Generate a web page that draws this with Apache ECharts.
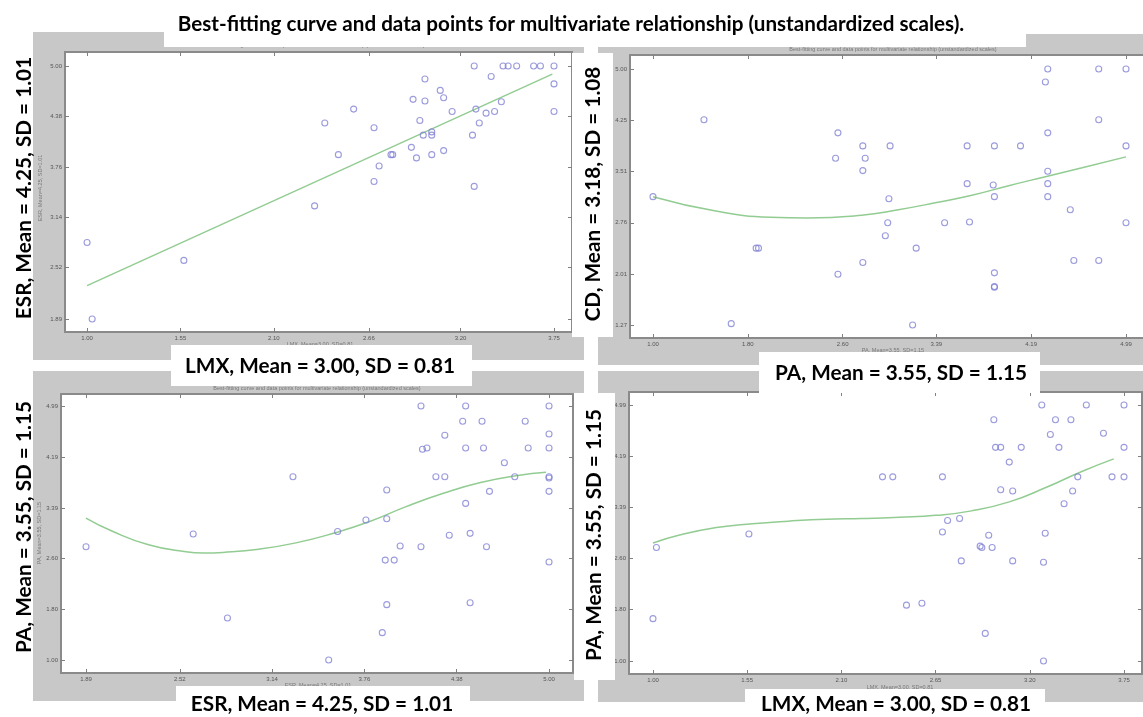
<!DOCTYPE html>
<html><head><meta charset="utf-8">
<script src="https://cdn.jsdelivr.net/npm/echarts@6/dist/echarts.min.js"></script>
<style>html,body{margin:0;padding:0;background:#fff}#c{width:1143px;height:717px}</style>
</head><body><div id="c"></div>
<script>
// ---------------- DATA ----------------
const mainTitle = 'Best-fitting curve and data points for multivariate relationship (unstandardized scales).';
const innerTitle = 'Best-fitting curve and data points for multivariate relationship (unstandardized scales)';

// Panel 1: LMX (x) vs ESR (y)
const p1XName = 'LMX, Mean = 3.00, SD = 0.81';
const p1YName = 'ESR, Mean = 4.25, SD = 1.01';
const p1XTicks = [1.00, 1.55, 2.10, 2.66, 3.20, 3.75];
const p1YTicks = [1.89, 2.52, 3.14, 3.76, 4.38, 5.00];
const p1Points = [
  [1.00,2.83],[1.03,1.89],[1.57,2.61],[2.34,3.28],[2.40,4.30],[2.48,3.91],[2.57,4.47],
  [2.69,4.24],[2.69,3.58],[2.72,3.77],[2.79,3.91],[2.80,3.91],[2.91,4.00],[2.92,4.59],
  [2.94,3.87],[2.96,4.33],[2.99,4.84],[2.98,4.15],[2.99,4.57],[3.03,3.91],[3.03,4.19],
  [3.03,4.15],[3.08,4.70],[3.10,4.61],[3.10,3.96],[3.15,4.44],[3.27,4.15],[3.28,5.00],
  [3.28,3.52],[3.29,4.47],[3.31,4.30],[3.35,4.42],[3.38,4.87],[3.40,4.44],[3.44,4.56],
  [3.45,5.00],[3.48,5.00],[3.53,5.00],[3.63,5.00],[3.67,5.00],[3.75,5.00],[3.75,4.78],[3.75,4.44]
];
const p1Curve = [[1.00,2.30],[3.74,4.90]];

// Panel 2: PA (x) vs CD (y)
const p2XName = 'PA, Mean = 3.55, SD = 1.15';
const p2YName = 'CD, Mean = 3.18, SD = 1.08';
const p2XTicks = [1.00, 1.80, 2.60, 3.39, 4.19, 4.99];
const p2YTicks = [1.27, 2.01, 2.76, 3.51, 4.25, 5.00];
const p2Points = [
  [1.00,3.14],[1.43,4.26],[1.66,1.29],[1.87,2.39],[1.89,2.39],[2.54,3.70],[2.56,4.07],
  [2.56,2.01],[2.77,3.88],[2.77,3.52],[2.77,2.18],[2.79,3.70],[2.96,2.57],[2.98,2.76],
  [2.99,3.11],[3.00,3.88],[3.19,1.27],[3.22,2.39],[3.46,2.76],[3.65,3.88],[3.65,3.33],
  [3.67,2.77],[3.87,3.31],[3.88,3.88],[3.88,3.14],[3.88,2.03],[3.88,1.83],[3.88,1.82],
  [4.10,3.88],[4.31,4.81],[4.33,5.00],[4.33,4.07],[4.33,3.51],[4.33,3.33],[4.33,3.14],
  [4.52,2.95],[4.55,2.21],[4.76,5.00],[4.76,4.26],[4.76,2.21],[4.99,5.00],[4.99,3.88],[4.99,2.76]
];
const p2Curve = [
  [1.00,3.14],[1.53,2.93],[1.99,2.84],[2.30,2.83],[2.76,2.87],[3.07,2.95],[3.38,3.05],
  [3.69,3.16],[4.00,3.30],[4.31,3.43],[4.62,3.56],[4.99,3.72]
];

// Panel 3: ESR (x) vs PA (y)
const p3XName = 'ESR, Mean = 4.25, SD = 1.01';
const p3YName = 'PA, Mean = 3.55, SD = 1.15';
const p3XTicks = [1.89, 2.52, 3.14, 3.76, 4.38, 5.00];
const p3YTicks = [1.00, 1.80, 2.60, 3.39, 4.19, 4.99];
const p3Points = [
  [1.89,2.78],[2.61,2.98],[2.84,1.66],[3.28,3.88],[3.52,1.00],[3.58,3.02],[3.77,3.20],
  [3.88,1.43],[3.91,3.67],[3.91,3.22],[3.90,2.57],[3.91,1.87],[3.96,2.57],[4.00,2.79],
  [4.14,4.99],[4.14,2.78],[4.15,4.31],[4.18,4.33],[4.24,3.88],[4.30,4.53],[4.30,3.88],
  [4.33,2.96],[4.42,4.75],[4.44,4.99],[4.44,4.33],[4.44,3.46],[4.47,2.99],[4.47,1.90],
  [4.55,4.75],[4.56,4.33],[4.58,2.78],[4.60,3.65],[4.70,4.10],[4.77,3.88],[4.84,4.75],
  [4.86,4.33],[5.00,4.99],[5.00,4.55],[5.00,4.33],[5.00,3.88],[5.00,3.86],[5.00,3.65],[5.00,2.54]
];
const p3Curve = [
  [1.89,3.23],[2.06,3.03],[2.31,2.81],[2.56,2.70],[2.68,2.68],[2.81,2.69],[3.05,2.74],
  [3.30,2.84],[3.55,2.99],[3.80,3.18],[4.04,3.41],[4.29,3.62],[4.54,3.79],[4.79,3.90],[4.98,3.95]
];

// Panel 4: LMX (x) vs PA (y)
const p4XName = 'LMX, Mean = 3.00, SD = 0.81';
const p4YName = 'PA, Mean = 3.55, SD = 1.15';
const p4XTicks = [1.00, 1.55, 2.10, 2.65, 3.20, 3.75];
const p4YTicks = [1.00, 1.80, 2.60, 3.39, 4.19, 4.99];
const p4Points = [
  [1.00,1.66],[1.02,2.77],[1.56,2.98],[2.34,3.87],[2.40,3.87],[2.48,1.87],[2.57,1.90],
  [2.69,3.87],[2.69,3.01],[2.72,3.19],[2.79,3.22],[2.80,2.56],[2.91,2.79],[2.92,2.77],
  [2.94,1.43],[2.96,2.96],[2.98,2.77],[2.99,4.76],[3.00,4.33],[3.03,3.67],[3.03,4.33],
  [3.08,4.10],[3.10,3.65],[3.10,2.56],[3.15,4.33],[3.27,4.99],[3.28,2.54],[3.28,1.00],
  [3.29,2.99],[3.32,4.53],[3.35,4.76],[3.37,4.33],[3.40,3.45],[3.44,4.76],[3.45,3.65],
  [3.48,3.87],[3.53,4.99],[3.63,4.55],[3.68,3.87],[3.75,4.99],[3.75,4.33],[3.75,3.87]
];
const p4Curve = [
  [1.00,2.84],[1.15,2.96],[1.37,3.08],[1.58,3.14],[1.79,3.18],[2.01,3.21],[2.22,3.22],
  [2.44,3.24],[2.65,3.27],[2.86,3.34],[3.08,3.48],[3.29,3.70],[3.50,3.95],[3.69,4.15]
];

// ---------------- STYLE / LAYOUT ----------------
const FONT = 'Lato';
const GRAY = '#c8c8c8';
function fitSize(text, target) {
  const ctx = document.createElement('canvas').getContext('2d');
  ctx.font = 'bold 100px ' + FONT;
  return 100 * target / ctx.measureText(text).width;
}
const titleSize = fitSize(mainTitle, 787);
const labelSize = fitSize(p1XName, 270);

const panels = [
  {grid:{left:65,top:52,width:507,height:280}, xr:[0.870,3.856], yr:[1.730,5.172],
   xt:p1XTicks, yt:p1YTicks, pts:p1Points, crv:p1Curve, smooth:false},
  {grid:{left:630,top:55,width:519,height:283}, xr:[0.806,5.184], yr:[1.081,5.204],
   xt:p2XTicks, yt:p2YTicks, pts:p2Points, crv:p2Curve, smooth:true},
  {grid:{left:61,top:394,width:512,height:279}, xr:[1.722,5.161], yr:[0.796,5.179],
   xt:p3XTicks, yt:p3YTicks, pts:p3Points, crv:p3Curve, smooth:true},
  {grid:{left:629,top:392,width:513,height:282}, xr:[0.860,3.855], yr:[0.797,5.193],
   xt:p4XTicks, yt:p4YTicks, pts:p4Points, crv:p4Curve, smooth:true}
];

const axisLineStyle = {color:'#8a8a8a', width:2};
const tickStyle = {color:'#808080', width:1};
const lblStyle = {fontSize:6, color:'#555', fontFamily:'Liberation Sans'};
const fmt = v => Number(v).toFixed(2);

const grids = [], xAxes = [], yAxes = [], series = [];
panels.forEach((p, i) => {
  grids.push(Object.assign({show:false, containLabel:false, outerBoundsMode:'none'}, p.grid));
  xAxes.push({type:'value', gridIndex:i, position:'bottom', min:p.xr[0], max:p.xr[1], z:3,
    axisLine:{show:true, onZero:false, lineStyle:axisLineStyle},
    axisTick:{show:true, inside:true, length:4, customValues:p.xt, lineStyle:tickStyle},
    axisLabel:{show:true, customValues:p.xt, margin:3, formatter:fmt, ...lblStyle},
    splitLine:{show:false}});
  xAxes.push({type:'value', gridIndex:i, position:'top', min:p.xr[0], max:p.xr[1], z:3,
    axisLine:{show:true, onZero:false, lineStyle:axisLineStyle},
    axisTick:{show:true, inside:true, length:4, customValues:p.xt, lineStyle:tickStyle},
    axisLabel:{show:false}, splitLine:{show:false}});
  yAxes.push({type:'value', gridIndex:i, position:'left', min:p.yr[0], max:p.yr[1], z:3,
    axisLine:{show:true, onZero:false, lineStyle:axisLineStyle},
    axisTick:{show:true, inside:true, length:4, customValues:p.yt, lineStyle:tickStyle},
    axisLabel:{show:true, customValues:p.yt, margin:3, formatter:fmt, ...lblStyle},
    splitLine:{show:false}});
  yAxes.push({type:'value', gridIndex:i, position:'right', min:p.yr[0], max:p.yr[1], z:3,
    axisLine:{show:true, onZero:false, lineStyle:axisLineStyle},
    axisTick:{show:true, inside:true, length:4, customValues:p.yt, lineStyle:tickStyle},
    axisLabel:{show:false}, splitLine:{show:false}});
  series.push({type:'line', xAxisIndex:2*i, yAxisIndex:2*i, data:p.crv, smooth:p.smooth,
    symbol:'none', z:4, lineStyle:{color:'#92cc92', width:1.5}, silent:true, animation:false});
  series.push({type:'scatter', xAxisIndex:2*i, yAxisIndex:2*i, data:p.pts, z:5,
    symbol:'circle', symbolSize:6,
    itemStyle:{color:'rgba(255,255,255,0)', borderColor:'#8282d4', borderWidth:1.1}, animation:false});
});

const graphic = [];
// gray panel backgrounds
[[33,32,551,328],[598,34,545,331],[33,371,551,330],[598,371,545,331]].forEach(r =>
  graphic.push({type:'rect', z:0, shape:{x:r[0],y:r[1],width:r[2],height:r[3]}, style:{fill:GRAY}}));
// white plot areas
panels.forEach(p => graphic.push({type:'rect', z:1,
  shape:{x:p.grid.left,y:p.grid.top,width:p.grid.width,height:p.grid.height}, style:{fill:'#fff'}}));
// tiny inner texts
function tiny(text, x, y, rot) {
  graphic.push({type:'text', z:2, x:x, y:y, rotation:rot||0,
    style:{text:text, font:'5.5px Liberation Sans', fill:'#777', textAlign:'center', textVerticalAlign:'middle'}});
}
tiny(innerTitle, 321, 45); tiny(innerTitle, 893, 49); tiny(innerTitle, 317, 388);
tiny('ESR, Mean=4.25, SD=1.01', 40, 188, Math.PI/2);
tiny('PA, Mean=3.55, SD=1.15', 39, 533, Math.PI/2);
tiny('LMX, Mean=3.00, SD=0.81', 320, 344); tiny('PA, Mean=3.55, SD=1.15', 893, 350);
tiny('LMX, Mean=3.00, SD=0.81', 900, 687); tiny('ESR, Mean=4.25, SD=1.01', 318, 685);
// white label boxes
[[164,0,862,47],[171,345,301,41],[572,53,41,284],[759,352,281,41],
 [574,393,41,287],[176,686,294,31],[745,689,300,28]].forEach(r =>
  graphic.push({type:'rect', z:6, shape:{x:r[0],y:r[1],width:r[2],height:r[3]}, style:{fill:'#fff'}}));
// big texts
function big(text, x, y, size, rot) {
  graphic.push({type:'text', z:7, x:x, y:y, rotation:rot||0,
    style:{text:text, font:'bold ' + size.toFixed(2) + 'px ' + FONT, fill:'#000',
      textAlign:'center', textVerticalAlign:'middle'}});
}
big(mainTitle, 571, 24, titleSize);
big(p1XName, 320, 366, labelSize);
big(p2XName, 901, 373, labelSize);
big(p3XName, 322, 704, labelSize);
big(p4XName, 896, 704, labelSize);
big(p1YName, 24, 188, labelSize, Math.PI/2);
big(p2YName, 593, 194, labelSize, Math.PI/2);
big(p3YName, 24, 527, labelSize, Math.PI/2);
big(p4YName, 594, 535, labelSize, Math.PI/2);

const chart = echarts.init(document.getElementById('c'), null, {renderer:'canvas'});
chart.setOption({
  animation:false,
  backgroundColor:'#fff',
  grid:grids, xAxis:xAxes, yAxis:yAxes, series:series, graphic:graphic
});
</script></body></html>
